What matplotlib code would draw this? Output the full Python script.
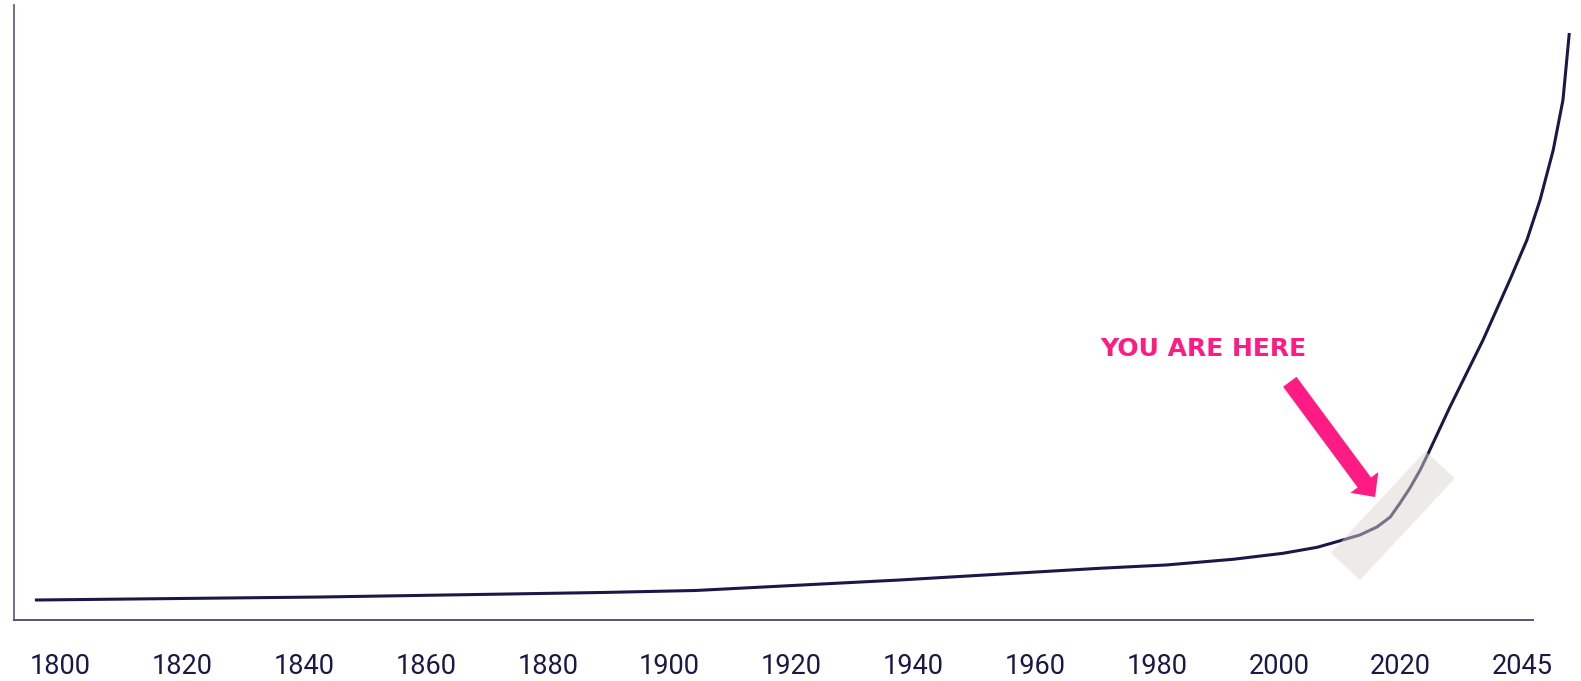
import matplotlib
matplotlib.use("Agg")
import matplotlib.pyplot as plt
import numpy as np
from matplotlib.patches import Rectangle, FancyArrowPatch
from matplotlib.transforms import Affine2D, ScaledTranslation

# ---------------- data ----------------
tick_years = [1800, 1820, 1840, 1860, 1880, 1900, 1920, 1940, 1960, 1980, 2000, 2020, 2045]
tick_labels = [str(y) for y in tick_years]

curve_years = [1795.8, 1842.6, 1888.6, 1904.3, 1937.8, 1970.6, 1981.5, 1992.5, 2000.7,
               2006.3, 2010.1, 2013.3, 2016.1, 2018.3, 2019.9, 2021.9, 2024.0, 2025.4,
               2030.1, 2036.9, 2042.4, 2045.9, 2048.6, 2051.3, 2053.3, 2054.6]
curve_values = [3.33, 3.83, 4.58, 4.92, 6.67, 8.62, 9.17, 10.12, 11.12,
                12.12, 13.22, 14.17, 15.5, 17.17, 19.5, 22.0, 25.0, 27.33,
                35.5, 46.67, 56.67, 63.33, 70.0, 78.33, 86.67, 97.83]

annot_text = "YOU ARE HERE"
here_year, here_value = 2018.7, 17.4          # centre of highlight band
arrow_tail = (2001.8, 39.7)
arrow_tip = (2015.8, 20.5)
text_pos = (1987.6, 45.2)


def year_to_pos(y):
    """Uneven category axis: labels are evenly spaced."""
    y = np.asarray(y, dtype=float)
    out = np.interp(y, tick_years, np.arange(len(tick_years)))
    lo = y < tick_years[0]
    hi = y > tick_years[-1]
    out = np.where(lo, (y - tick_years[0]) / (tick_years[1] - tick_years[0]), out)
    out = np.where(hi, len(tick_years) - 1 + (y - tick_years[-1]) / (tick_years[-1] - tick_years[-2]), out)
    return out


# ---------------- style ----------------
NAVY = "#1b1847"
SPINE = "#55557a"
PINK = "#ff1a84"

W, H = 1581, 681
fig = plt.figure(figsize=(W / 100, H / 100), dpi=100)
ax = fig.add_axes([14 / W, (H - 620) / H, (W - 14) / W, (620 - 5) / H])

ax.set_xlim(-0.3817, 12.48)
ax.set_ylim(0, 102.5)

xs = year_to_pos(curve_years)
ax.plot(xs, curve_values, color=NAVY, lw=2.2, solid_capstyle="butt", solid_joinstyle="round", zorder=2)

# highlight band (semi-transparent, over the line)
cx = float(year_to_pos(here_year))
band = Rectangle((-69.5, -20), 139, 40, facecolor="#dcd5cf", alpha=0.48, edgecolor="none",
                 transform=Affine2D().rotate_deg(47) + ScaledTranslation(cx, here_value, ax.transData),
                 zorder=3)
ax.add_patch(band)

# arrow
arr = FancyArrowPatch((float(year_to_pos(arrow_tail[0])), arrow_tail[1]),
                      (float(year_to_pos(arrow_tip[0])), arrow_tip[1]),
                      arrowstyle="simple,head_length=13,head_width=25,tail_width=12",
                      mutation_scale=1, color=PINK, lw=0, shrinkA=0, shrinkB=0, zorder=4)
ax.add_patch(arr)

ax.text(float(year_to_pos(text_pos[0])), text_pos[1], annot_text, color=PINK, fontsize=18,
        fontweight="bold", family="DejaVu Sans", ha="center", va="center", zorder=5)

# spines / ticks
for s in ["top", "right"]:
    ax.spines[s].set_visible(False)
ax.spines["left"].set_color(SPINE)
ax.spines["left"].set_linewidth(1.2)
ax.spines["bottom"].set_color(SPINE)
ax.spines["bottom"].set_linewidth(1.4)
ax.spines["bottom"].set_bounds(-0.3817, 12.087)

ax.set_xticks(np.arange(len(tick_years)))
ax.set_xticklabels(tick_labels, family=["Roboto", "DejaVu Sans"], fontweight="normal",
                   fontsize=19.5, color=NAVY)
ax.tick_params(axis="x", length=0, pad=24)
ax.set_yticks([])

fig.savefig("out.png", dpi=100, facecolor="white")
